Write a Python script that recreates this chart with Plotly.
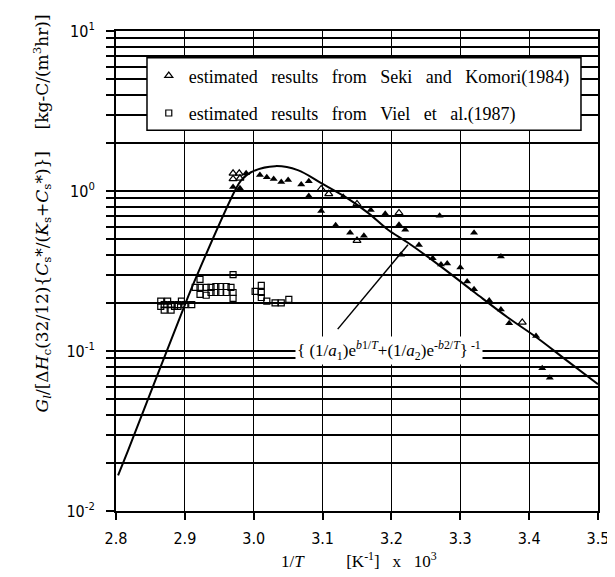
import math
import plotly.graph_objects as go

# ---------------- data ----------------
# Seki and Komori (1984) - filled triangles
tri_x = [2.970, 2.980, 2.989, 3.009, 3.019, 3.029, 3.040, 3.050, 3.069, 3.080,
         3.080, 3.098, 3.130, 3.170, 3.191, 3.211, 3.220, 3.119, 3.140, 3.160,
         3.270, 3.240, 3.260, 3.272, 3.281, 3.300, 3.320, 3.359, 3.310, 3.320,
         3.342, 3.359, 3.371, 3.410, 3.419, 3.430, 3.214]
tri_y = [1.06, 1.04, 1.29, 1.26, 1.22, 1.19, 1.14, 1.17, 1.10, 1.15,
         0.93, 0.75, 0.92, 0.76, 0.72, 0.615, 0.573, 0.61, 0.548, 0.525,
         0.70, 0.46, 0.38, 0.347, 0.352, 0.332, 0.548, 0.389, 0.272, 0.243,
         0.207, 0.182, 0.149, 0.124, 0.078, 0.068, 0.40]
# Seki and Komori (1984) - open triangles
otri_x = [2.970, 2.979, 2.970, 2.980, 3.098, 3.109, 3.150, 3.211, 3.150, 3.390]
otri_y = [1.29, 1.29, 1.19, 1.20, 1.03, 0.96, 0.83, 0.73, 0.49, 0.151]

# Viel et al. (1987) - open squares
sq_x = [2.865, 2.870, 2.875, 2.880, 2.885, 2.890, 2.895, 2.870, 2.880, 2.890,
        2.865, 2.900, 2.910, 2.915, 2.922, 2.922, 2.931, 2.922, 2.931, 2.938,
        2.945, 2.952, 2.960, 2.967, 2.938, 2.945, 2.952, 2.960, 2.970, 2.970,
        2.970, 3.002, 3.011, 3.011, 3.011, 3.019, 3.031, 3.040, 3.051]
sq_y = [0.205, 0.195, 0.205, 0.195, 0.190, 0.195, 0.205, 0.180, 0.180, 0.190,
        0.190, 0.195, 0.195, 0.250, 0.280, 0.250, 0.250, 0.226, 0.223, 0.250,
        0.253, 0.253, 0.253, 0.250, 0.232, 0.232, 0.232, 0.232, 0.232, 0.213,
        0.300, 0.236, 0.257, 0.232, 0.216, 0.205, 0.200, 0.200, 0.210]

# model curve {(1/a1)e^{b1/T}+(1/a2)e^{-b2/T}}^-1
curve_x = [2.803, 2.817, 2.905, 2.923, 2.973, 2.982, 2.996, 3.031, 3.064, 3.098,
           3.133, 3.166, 3.195, 3.224, 3.272, 3.321, 3.369, 3.408, 3.452, 3.500]
curve_y = [0.0167, 0.0236, 0.220, 0.337, 1.01, 1.17, 1.31, 1.43, 1.35, 1.12,
           0.918, 0.730, 0.573, 0.475, 0.337, 0.232, 0.162, 0.124, 0.089, 0.062]

# axis ticks
x_ticks = [2.8, 2.9, 3.0, 3.1, 3.2, 3.3, 3.4, 3.5]
x_labels = ["2.8", "2.9", "3.0", "3.1", "3.2", "3.3", "3.4", "3.5"]
decades = [-2, -1, 0, 1]
y_ticks = []
y_labels = []
for d in decades:
    for m in range(1, 10):
        if d == 1 and m > 1:
            break
        y_ticks.append(m * 10.0 ** d)
        y_labels.append("10<sup>%d</sup>" % d if m == 1 else "")

# leader line of the formula label
leader_start = (3.122, 0.137)
leader_end = (3.224, 0.462)
formula_pos = (3.197, 0.101)

# ---------------- figure ----------------
serif = "Liberation Serif, Times New Roman, serif"
wide_serif = "DejaVu Serif, Liberation Serif, serif"
sans = "Liberation Sans Narrow, DejaVu Sans Condensed, Liberation Sans, Arial, sans-serif"
nb = "\u00a0"
sp = nb * 3

fig = go.Figure()
fig.add_trace(go.Scatter(x=curve_x, y=curve_y, mode="lines",
                         line=dict(color="black", width=2, shape="spline", smoothing=1.0),
                         showlegend=False, hoverinfo="skip"))
fig.add_trace(go.Scatter(x=otri_x, y=otri_y, mode="markers",
                         marker=dict(symbol="triangle-up-open", size=7, color="black",
                                     line=dict(width=1.2)),
                         name=sp.join("estimated results from Seki and Komori(1984)".split(" ")),
                         legendgroup="a"))
fig.add_trace(go.Scatter(x=tri_x, y=tri_y, mode="markers",
                         marker=dict(symbol="triangle-up", size=7, color="black"),
                         showlegend=False, legendgroup="a"))
fig.add_trace(go.Scatter(x=sq_x, y=sq_y, mode="markers",
                         marker=dict(symbol="square-open", size=6, color="black",
                                     line=dict(width=1.2)),
                         name=sp.join("estimated results from Viel et al.(1987)".split(" ")),
                         legendgroup="b"))

# legend frame
fig.add_shape(type="rect", xref="paper", yref="paper",
              x0=0.0643, x1=0.9647, y0=0.793, y1=0.9441,
              fillcolor="white", line=dict(color="black", width=1.5), layer="above")

# leader line
fig.add_shape(type="line", xref="x", yref="y",
              x0=leader_start[0], y0=leader_start[1], x1=leader_end[0], y1=leader_end[1],
              line=dict(color="black", width=1.5))

fig.add_annotation(x=formula_pos[0], y=math.log10(formula_pos[1]), xref="x", yref="y",
                   text="{\u00a0(1/<i>a</i><sub>1</sub>)e<sup><i>b</i>1/<i>T</i></sup>+(1/<i>a</i><sub>2</sub>)e<sup>-<i>b</i>2/<i>T</i></sup>}<sup>\u00a0-1</sup>",
                   showarrow=False, bgcolor="white",
                   font=dict(family=serif, size=17, color="black"))

# y title
fig.add_annotation(x=-0.1826, y=0.621, xref="paper", yref="paper", textangle=-90,
                   text="<i>G</i><sub><i>l</i></sub>/[Δ<i>H</i><sub>c</sub>(32/12){<i>C</i><sub>s</sub>*/(<i>K</i><sub>s</sub>+<i>C</i><sub>s</sub>*)}]"
                        + nb * 4 + "[kg-C/(m<sup>3</sup>hr)]",
                   showarrow=False, font=dict(family=wide_serif, size=17, color="black"))
# x title
fig.add_annotation(x=0.504, y=-0.13, xref="paper", yref="paper",
                   text="1/<i>T</i>" + nb * 10 + "[K<sup>-1</sup>]" + nb * 3 + "x" + nb * 3 + "10<sup>3</sup>",
                   showarrow=False, font=dict(family=serif, size=17, color="black"))

fig.update_layout(
    width=615, height=577,
    margin=dict(l=108, r=25, t=20, b=74),
    paper_bgcolor="white", plot_bgcolor="white",
    showlegend=True,
    legend=dict(x=0.068, y=0.945, xanchor="left", yanchor="top",
                bgcolor="rgba(0,0,0,0)", borderwidth=0,
                font=dict(family=serif, size=18, color="black"),
                traceorder="grouped", tracegroupgap=11),
    xaxis=dict(range=[2.8, 3.5], tickvals=x_ticks, ticktext=x_labels,
               ticks="outside", ticklen=7, tickcolor="black", tickwidth=1.5,
               ticklabelstandoff=5,
               showgrid=True, gridcolor="black", gridwidth=1,
               showline=True, linecolor="black", linewidth=2, mirror=True,
               zeroline=False,
               tickfont=dict(family=sans, size=16, color="black")),
    yaxis=dict(type="log", range=[-2, 1], tickvals=y_ticks, ticktext=y_labels,
               ticks="outside", ticklen=8, tickcolor="black", tickwidth=1.5,
               ticklabelstandoff=8,
               showgrid=True, gridcolor="black", gridwidth=1.6,
               showline=True, linecolor="black", linewidth=2, mirror=True,
               zeroline=False,
               tickfont=dict(family=sans, size=16, color="black")),
)

fig.write_html("out.html")
